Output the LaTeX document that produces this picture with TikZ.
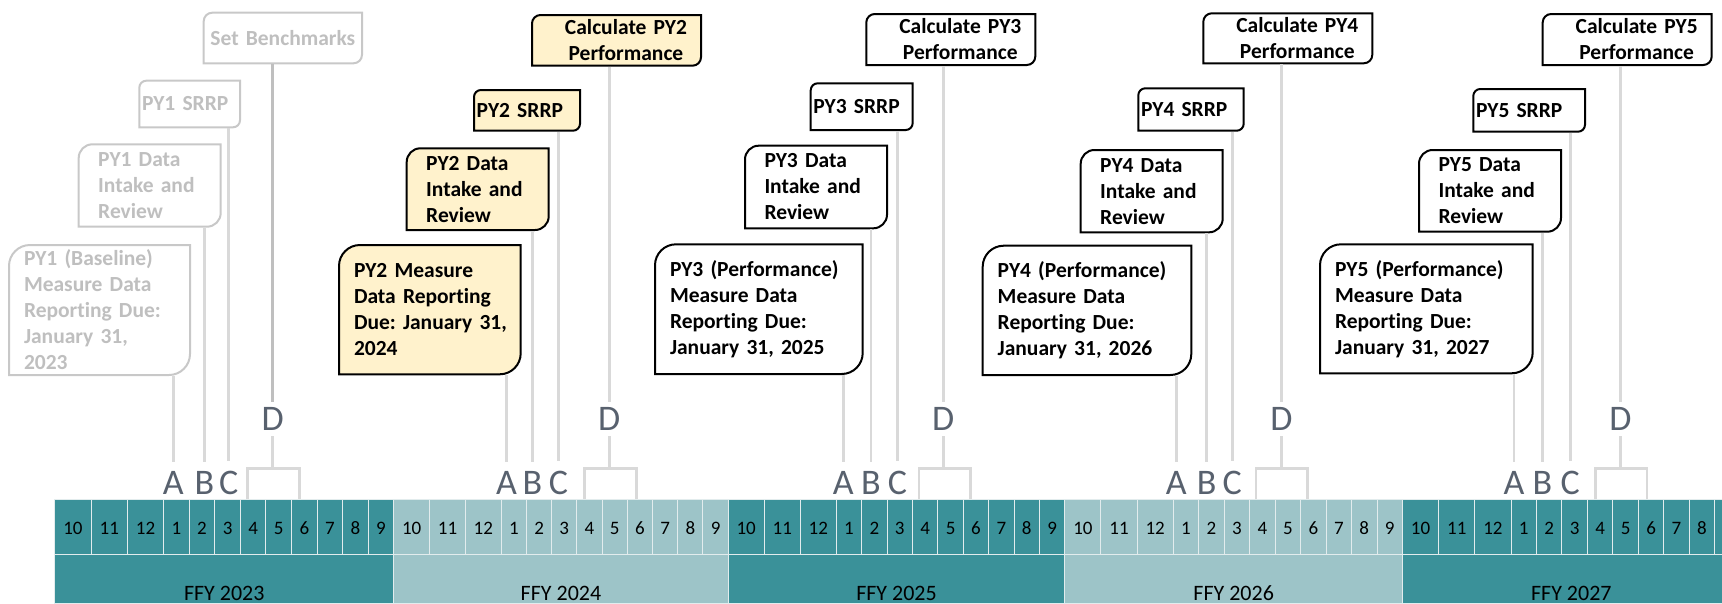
\documentclass[tikz,border=0pt]{standalone}
\usepackage{fontspec}
\setmainfont{Carlito}[Ligatures=NoCommon]
\frenchspacing
\usetikzlibrary{backgrounds}

\definecolor{tealdark}{RGB}{58,145,153}
\definecolor{teallight}{RGB}{157,196,200}
\definecolor{gridline}{RGB}{226,236,237}
\definecolor{stemgrey}{RGB}{217,217,217}
\definecolor{benchgrey}{RGB}{191,191,191}
\definecolor{oldline}{RGB}{200,200,200}
\definecolor{oldtext}{RGB}{191,191,191}
\definecolor{duefill}{RGB}{255,242,204}
\definecolor{lettergrey}{RGB}{88,97,110}

% frame with rounded top-left and bottom-right corners
\newcommand\pyframe[4]{%
    \path[draw=#3, fill=#4, line width=2pt]
        (#1.south west) -- ([yshift=-#2]#1.north west)
        arc[start angle=180, end angle=90, radius=#2]
        -- (#1.north east) -- ([yshift=#2]#1.south east)
        arc[start angle=0, end angle=-90, radius=#2] -- cycle;%
}

\begin{document}
\begin{tikzpicture}[
    x=1pt, y=1pt,
    pybox/.style={
        anchor=north west,
        inner ysep=0pt,
        outer sep=0pt,
        align=left,
        font=\bfseries\fontsize{21.5}{26}\selectfont,
    },
    duebox/.style args = {#1/#2}{
        pybox, text width=#1, inner xsep=15pt, minimum height=#2
    },
    intakebox/.style={
        pybox, text width=103pt, inner xsep=19.5pt, minimum height=#1
    },
    srrpbox/.style args = {#1/#2}{
        pybox, text width=#1, inner xsep=2.7pt, minimum height=#2
    },
    headbox/.style args = {#1/#2}{
        pybox, align=center, text width=#1, inner xsep=4pt, minimum height=#2
    },
    pyone/.style={text=oldtext},
    monthcell/.style={
        rectangle,
        anchor=north west,
        draw=gridline,
        line width=1pt,
        minimum height=54.7pt,
        inner sep=0pt,
        text height=18pt,
        text depth=2pt,
        font=\fontsize{19}{22}\selectfont,
    },
    yearcell/.style={
        rectangle,
        anchor=north west,
        draw=gridline,
        line width=1pt,
        minimum height=49.3pt,
        inner sep=0pt,
    },
    yearlab/.style={anchor=base, font=\fontsize{22}{26}\selectfont},
    letter/.style={
        anchor=base,
        text=lettergrey,
        inner xsep=0pt,
        inner ysep=9pt,
        font=\fontsize{36}{40}\selectfont,
    },
    stem/.style={draw=stemgrey, line width=2.6pt},
]
    \useasboundingbox (0,0) rectangle (1722,-603);

    % PY1
    \node[headbox={150.3pt/50.6pt}, pyone] (head1) at (203.7,-12.7) {Set Benchmarks};
    \node[srrpbox={95.3pt/46.6pt}, pyone] (srrp1) at (139.3,-80.7) {PY1 SRRP};
    \node[intakebox=82.4pt, pyone] (intake1) at (78.7,-144.3) {PY1 Data\\Intake and\\Review};
    \node[duebox={151pt/130pt}, pyone] (due1) at (9,-245)
        {PY1 (Baseline)\\Measure Data\\Reporting Due:\\January 31,\\2023};

    % PY2
    \node[headbox={161pt/50.7pt}] (head2) at (532,-15)
        {\hspace*{19pt}Calculate PY2\\\hspace*{19pt}Performance};
    \node[srrpbox={100.6pt/40.7pt}] (srrp2) at (474,-90) {PY2 SRRP};
    \node[intakebox=81.7pt] (intake2) at (406.7,-148.3) {PY2 Data\\Intake and\\Review};
    \node[duebox={151.7pt/129.3pt}] (due2) at (339,-245)
        {PY2 Measure\\Data Reporting\\\mbox{Due: January 31,}\\2024};

    % PY3
    \node[headbox={161pt/51pt}] (head3) at (866.3,-14)
        {\hspace*{19pt}Calculate PY3\\\hspace*{19pt}Performance};
    \node[srrpbox={96.6pt/46.7pt}] (srrp3) at (810.7,-83.3) {PY3 SRRP};
    \node[intakebox=82.6pt] (intake3) at (745,-145.7) {PY3 Data\\Intake and\\Review};
    \node[duebox={177.7pt/129.7pt}] (due3) at (655,-244.3)
        {PY3 (Performance)\\Measure Data\\Reporting Due:\\January 31, 2025};

    % PY4
    \node[headbox={161pt/50pt}] (head4) at (1203.3,-13.3)
        {\hspace*{19pt}Calculate PY4\\\hspace*{19pt}Performance};
    \node[srrpbox={100pt/42.4pt}] (srrp4) at (1138.3,-88.3) {PY4 SRRP};
    \node[intakebox=82.3pt] (intake4) at (1080.7,-150) {PY4 Data\\Intake and\\Review};
    \node[duebox={178.6pt/129.3pt}] (due4) at (982.7,-245.7)
        {PY4 (Performance)\\Measure Data\\Reporting Due:\\January 31, 2026};

    % PY5
    \node[headbox={161pt/51pt}] (head5) at (1542.7,-14)
        {\hspace*{19pt}Calculate PY5\\\hspace*{19pt}Performance};
    \node[srrpbox={106.3pt/42.7pt}] (srrp5) at (1473.3,-89) {PY5 SRRP};
    \node[intakebox=81.7pt] (intake5) at (1419,-150) {PY5 Data\\Intake and\\Review};
    \node[duebox={182.7pt/129pt}] (due5) at (1320,-244.3)
        {PY5 (Performance)\\Measure Data\\Reporting Due:\\January 31, 2027};

    \begin{scope}[on background layer]
        \foreach \bx/\rad in {head/8.5pt, srrp/7pt, intake/13.7pt, due/21pt}{
            \pyframe{\bx1}{\rad}{oldline}{white}
            \pyframe{\bx2}{\rad}{black}{duefill}
            \foreach \k in {3,4,5}{\pyframe{\bx\k}{\rad}{black}{white}}
        }
    \end{scope}

    % month and year bar
    \foreach \ys/\ye/\fy/\col in {54.3/393.3/2023/tealdark, 393.3/727.7/2024/teallight,
            727.7/1064.3/2025/tealdark, 1064.3/1402/2026/teallight, 1402/1739.7/2027/tealdark}{
        \pgfmathsetmacro\mstep{(\ye-\ys)/13.26}
        \pgfmathsetmacro\ywid{\ye-\ys}
        \foreach \m [count=\mi] in {10,11,12,1,2,3,4,5,6,7,8,9}{
            \pgfmathsetmacro\mleft{\mi<4 ? \ys+(\mi-1)*1.42*\mstep : \ys+(\mi+0.26)*\mstep}
            \pgfmathsetmacro\mwid{\mi<4 ? 1.42*\mstep : \mstep}
            \node[monthcell, fill=\col, minimum width=\mwid pt] (m\fy-\mi) at (\mleft,-499) {\m};
        }
        \node[yearcell, fill=\col, minimum width=\ywid pt] (fy\fy) at (\ys,-553.7) {};
        \node[yearlab] at ([yshift=4pt]fy\fy.south) {FFY \fy};
    }

    % letters, stems and brackets
    \foreach \k/\xa/\xb/\xc/\xd/\bl/\br/\dc in {
            1/173.3/204.3/228.7/272.7/247.7/299.7/benchgrey,
            2/506.5/532.3/558.5/609.3/584.7/636.3/stemgrey,
            3/843.4/871/897.4/943.3/918.8/970.5/stemgrey,
            4/1176.3/1206.7/1232.3/1281.5/1256/1307.7/stemgrey,
            5/1514/1542.5/1570.3/1620.5/1595.3/1647/stemgrey}{
        \node[letter] (a\k) at (\xa,-494) {A};
        \node[letter] (b\k) at (\xb,-494) {B};
        \node[letter] (c\k) at (\xc,-494) {C};
        \node[letter, inner ysep=5.5pt] (d\k) at (\xd,-430.7) {D};
        \coordinate (k\k) at (\xd,-468.5);
        \coordinate (l\k) at (\bl,-499);
        \coordinate (r\k) at (\br,-499);
        \draw[stem, shorten <=1pt] (due\k.south -| a\k.north) -- (a\k.north);
        \draw[stem, shorten <=1pt] (intake\k.south -| b\k.north) -- (b\k.north);
        \draw[stem, shorten <=1pt] (srrp\k.south -| c\k.north) -- (c\k.north);
        \draw[stem, draw=\dc, shorten <=1pt] (head\k.south -| d\k.north) -- (d\k.north);
        \draw[stem] (d\k.south) -- (k\k);
        \draw[stem] (l\k) |- (k\k) -| (r\k);
    }
\end{tikzpicture}
\end{document}
